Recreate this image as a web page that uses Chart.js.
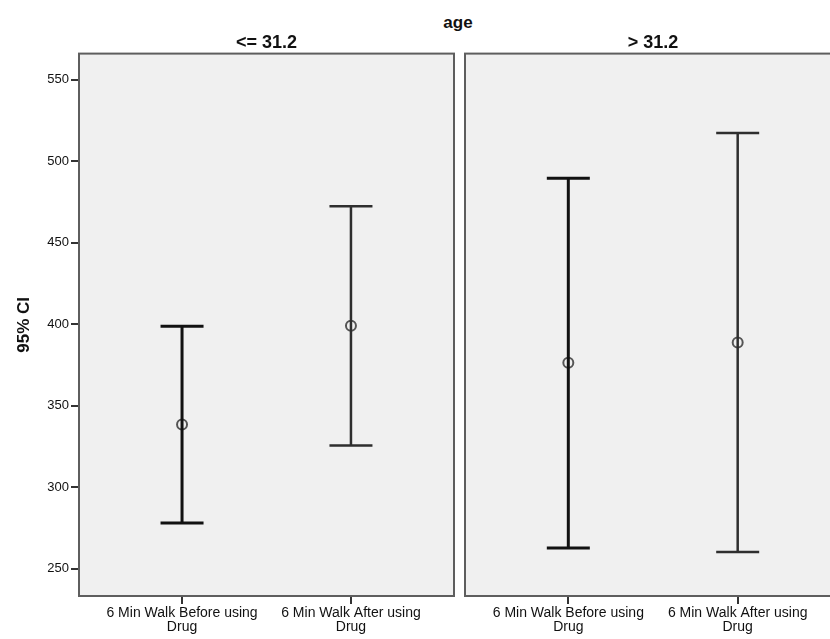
<!DOCTYPE html>
<html>
<head>
<meta charset="utf-8">
<script src="https://cdn.jsdelivr.net/npm/chart.js@4"></script>
<style>
  html, body { margin: 0; padding: 0; background: #fff; }
  body { width: 830px; height: 639px; overflow: hidden; position: relative; }
  canvas { position: absolute; top: 0; }
  #left { left: 0; }
  #right { left: 460px; }
  #age { position: absolute; left: 408px; width: 100px; top: 13px; text-align: center;
         font: bold 17px "Liberation Sans", Arial, sans-serif; color: #111; }
</style>
</head>
<body>
<div id="age">age</div>
<canvas id="left" width="460" height="639"></canvas>
<canvas id="right" width="390" height="639"></canvas>
<script>
// groups of age and the two measurements
var groups = ['<= 31.2', '> 31.2'];
var categories = ['6 Min Walk Before using Drug', '6 Min Walk After using Drug'];
// age <= 31.2
var meanLow = [338.5, 399.0];
var lowerLow = [278.2, 325.6];
var upperLow = [398.8, 472.3];
// age > 31.2
var meanHigh = [376.4, 388.8];
var lowerHigh = [262.9, 260.4];
var upperHigh = [489.5, 517.3];
var yTicks = [250, 300, 350, 400, 450, 500, 550];

Chart.defaults.font.family = '"Liberation Sans", Arial, sans-serif';
Chart.defaults.color = '#222';

var panelBg = {
    id: 'panelBg',
    beforeDraw: function(chart) {
        var a = chart.chartArea, ctx = chart.ctx;
        ctx.save();
        ctx.fillStyle = '#f0f0f0';
        ctx.fillRect(a.left, a.top, a.right - a.left, a.bottom - a.top);
        ctx.restore();
    },
    beforeDatasetsDraw: function(chart) {
        var a = chart.chartArea, ctx = chart.ctx;
        ctx.save();
        ctx.strokeStyle = '#5e5e5e';
        ctx.lineWidth = 2;
        ctx.strokeRect(a.left, a.top, a.right - a.left, a.bottom - a.top);
        ctx.restore();
    }
};

function makePanel(id, title, mean, lower, upper, showY, pad)
{
    var datasets = [];
    for (var i = 0; i < categories.length; i++)
    {
        datasets.push({
            data: [{x: i + 1, y: lower[i]}, {x: i + 1, y: upper[i]}],
            showLine: true,
            borderColor: i == 0 ? '#111' : '#2e2e2e',
            borderWidth: i == 0 ? 3 : 2.5,
            pointStyle: 'line',
            pointRadius: 21.5,
            pointHoverRadius: 21.5,
            pointBorderWidth: i == 0 ? 3 : 2.5,
            pointBorderColor: i == 0 ? '#111' : '#2e2e2e'
        });
    }
    datasets.push({
        data: mean.map(function(m, i) { return {x: i + 1, y: m}; }),
        showLine: false,
        pointStyle: 'circle',
        pointRadius: 5,
        pointHoverRadius: 5,
        pointBorderWidth: 2,
        pointBorderColor: '#555',
        pointBackgroundColor: 'rgba(0,0,0,0)'
    });

    return new Chart(document.getElementById(id), {
        type: 'scatter',
        data: { datasets: datasets },
        plugins: [panelBg],
        options: {
            responsive: false,
            animation: false,
            events: [],
            layout: { padding: pad, autoPadding: false },
            plugins: {
                legend: { display: false },
                tooltip: { enabled: false },
                title: {
                    display: true,
                    text: title,
                    fullSize: false,
                    color: '#111',
                    font: { size: 18, weight: 'bold' },
                    padding: { top: 32, bottom: 0 }
                }
            },
            scales: {
                x: {
                    type: 'linear',
                    min: 0.39,
                    max: 2.61,
                    afterBuildTicks: function(s) {
                        s.ticks = categories.map(function(c, i) { return {value: i + 1}; });
                    },
                    afterFit: function(s) { s.height = 43; s.paddingLeft = 0; s.paddingRight = 0; },
                    grid: { drawOnChartArea: false, tickLength: 8, tickColor: '#333', lineWidth: 2 },
                    border: { display: false },
                    ticks: {
                        maxRotation: 0,
                        autoSkip: false,
                        padding: 2,
                        color: '#111',
                        font: { size: 14, lineHeight: 1.0 },
                        callback: function(v) {
                            var s = categories[Math.round(v) - 1];
                            var k = s.lastIndexOf(' ');
                            return [s.slice(0, k), s.slice(k + 1)];
                        }
                    }
                },
                y: {
                    display: showY,
                    min: 233.4,
                    max: 565.9,
                    afterBuildTicks: function(s) {
                        s.ticks = yTicks.map(function(t) { return {value: t}; });
                    },
                    afterFit: function(s) { if (showY) s.width = 79; s.paddingTop = 0; s.paddingBottom = 0; },
                    grid: { drawOnChartArea: false, tickLength: 8, tickColor: '#333', lineWidth: 2 },
                    border: { display: false },
                    title: {
                        display: true,
                        text: '95% CI',
                        color: '#111',
                        font: { size: 17, weight: 'bold' },
                        padding: { top: 14, bottom: 0 }
                    },
                    ticks: { padding: 2, color: '#111', font: { size: 13 } }
                }
            }
        }
    });
}

makePanel('left', groups[0], meanLow, lowerLow, upperLow, true, {left: 0, right: 6, top: 0, bottom: 0});
makePanel('right', groups[1], meanHigh, lowerHigh, upperHigh, false, {left: 5, right: 9, top: 0, bottom: 0});
</script>
</body>
</html>
